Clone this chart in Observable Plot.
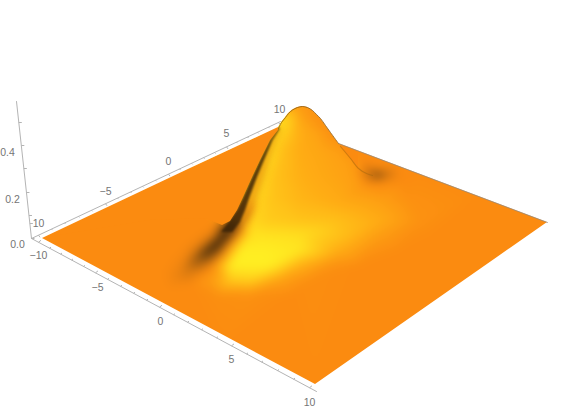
<!DOCTYPE html>
<html><head><meta charset="utf-8">
<style>html,body{margin:0;padding:0;background:#fff}svg{display:block}</style>
<script src="https://cdn.jsdelivr.net/npm/d3@7"></script>
<script src="https://cdn.jsdelivr.net/npm/@observablehq/plot@0.6"></script>
</head><body>
<script>
// Values: every sample is [across, down, shade]
const cornerShade = [[0,0,0],[572,0,0],[572,408,0],[0,408,0],[150,100,0],[420,100,0],[550,222,0],[315,390,0],[100,300,0],[220,350,0],[430,320,0],[500,250,0],[100,200,0],[420,170,0],[480,195,0],[345,140,0],[352,150,0],[362,160,0]];
const crestShade = [[270,118,.8],[285,122,.8],[290,113,.62],[295,108,.35],[302,105,.15],[312,106,.1],[290,120,.65],[300,120,.32],[310,120,.18],[320,125,.08],
 [276,130,.8],[282,130,.8],[290,130,.58],[300,130,.38],[310,130,.32],[320,130,.22],[330,132,.07],
 [262,150,.8],[272,150,.8],[280,150,.58],[300,150,.38],[320,150,.32],[340,150,.2],
 [250,175,.78],[262,175,.78],[275,175,.58],[300,175,.42],[330,175,.32],[352,178,.24],[365,188,.15],
 [240,200,.75],[258,200,.75],[270,200,.62],[300,200,.48],[340,200,.36],[380,200,.24],[410,200,.07],
 [250,220,.78],[270,220,.66],[300,220,.6],[340,220,.55],[380,220,.38],[420,220,.08],
 [248,235,.85],[258,235,.9],[300,235,.85],[345,235,.55],[385,235,.18],[430,235,0],
 [240,250,1],[260,250,1],[300,250,.92],[340,250,.38],[370,250,.1],[400,250,0],
 [230,265,1],[243,265,1],[270,265,1],[300,265,.42],[330,265,.1],[360,265,0],
 [210,280,.2],[230,280,.65],[250,280,.7],[280,280,.25],[310,280,.03],
 [215,295,.04],[250,295,.06],[290,295,0]];
const shadowShade = [[240,212,-.9],[232,224,-1],[225,234,-1],[216,244,-1],[207,251,-.85],[198,258,-.5],[188,266,-.22],[178,277,-.07],
 [214,226,0],[199,235,0],[184,246,0],[172,258,0],[163,272,0],[168,288,0],
 [213,236,-.15],[204,243,-.15],[194,251,-.12],[183,262,-.05],
 [233,246,.4],[221,258,.12],[210,266,-.03],[198,275,-.02],[190,285,0]];
const hollowShade = [[377,174,-.85],[370,174,-.3],[385,175,-.3],[393,177,-.05],[377,169,-.05],[377,180,-.05],[360,182,.16],[403,180,0],[398,167,0],[340,152,.24],[348,162,.24],[354,172,.2]];
const samples = [...cornerShade,...crestShade,...shadowShade,...hollowShade];

const shadeDomain = [-1,-.5,0,.4,1];
const shadeColors = ["#2e1c08","#8a5210","#FB8B10","#FFAD14","#FFEE22"];

const skyline = [[0,408],[42,408],[42,238],[190,168],[278,127],[281,122],[285,117],[288,113],[292,109.5],[297,107],[302,106],[307,107],[312,110],[316,114],[320,118],[325,125],[330,132],[338,143],[547,222],[547,408],[572,408]];
const frontEdge = [[42,238],[315,384],[547,222]];
const farPlane = [[42,238,238],[150,187,220],[205,161,218],[222,153,225],[230,149,221],[237,145,210],[243,143,197],[252,139,177],[260,135,160],[270,130,140],[278,126,130]];
const sidePlane = [[338,143,143],[350,147.5,158],[358,150.6,168]];
const rim = [[278,128],[281,122],[285,117],[288,113],[292,109.5],[297,107],[302,106],[307,107],[312,110],[316,114],[320,118],[325,125],[330,132],[338,143]];
const backEdge = [[338,143],[547,222]];
const crease = [[340,146],[350,158],[358,168],[366,173],[372,175]];
const amberBand = [[128,278,282],[140,270,276],[160,260,269],[177,252,264],[197,243,257],[210,237,253],[222,229,247]];
const darkBand = [[128,278,280],[140,270,272.5],[160,260,264],[177,252,257],[197,243,249.5],[210,237,245],[222,229,240],[232,221,232]];

const boxAxes = [[[31,238],[16,101]],[[31,238],[280,121]],[[31,238],[316,391]]];
const frontTicks = [38,49,60,71,83,95,107,120,133,146,159,173,187,201,216,231,246,261,277,293,309];
const backTicks = [38,51,64,78,91,105,117,130,142,155,168,179,191,203,214,226,236,247,257,268,278];
const heightTicks = [238,223,215,192,168,145,122];
const frontY = x => 238 + (x-31)*153/285;
const backY = x => 238 - (x-31)*117/249;
const heightX = y => 31 - (238-y)*15/137;

const labels = [
 ["0.0",17,244],["0.2",12,199],["0.4",7,152],
 ["10",38,223],["\u22125",105,191],["0",168,161],["5",226,133],["10",279,109],
 ["\u221210",38,255],["\u22125",97,287],["0",160,321],["5",231,359],["10",309,402]
];

const gray = "#b4b4b4", textGray = "#757575", orange = "#FB8B10";
const plot = Plot.plot({
  width:572,height:408,margin:0,
  x:{domain:[0,572],axis:null},
  y:{domain:[408,0],axis:null},
  color:{type:"linear",domain:shadeDomain,range:shadeColors,legend:false},
  marks:[
    Plot.raster(samples,{x:d=>d[0],y:d=>d[1],fill:d=>d[2],interpolate:"barycentric",pixelSize:1}),
    Plot.areaX(amberBand,{y:d=>d[0],x1:d=>d[1],x2:d=>d[2],fill:"#e89410",fillOpacity:.7,className:"band-soft"}),
    Plot.areaX(darkBand,{y:d=>d[0],x1:d=>d[1],x2:d=>d[2],fill:"#3c2408",fillOpacity:.85,className:"band-dark"}),
    Plot.areaY(farPlane,{x:d=>d[0],y1:d=>d[1],y2:d=>d[2],fill:orange}),
    Plot.areaY(sidePlane,{x:d=>d[0],y1:d=>d[1],y2:d=>d[2],fill:orange}),
    Plot.line(crease,{x:d=>d[0],y:d=>d[1],stroke:"#a8680f",strokeWidth:1.1,strokeOpacity:.55,curve:"catmull-rom"}),
    Plot.areaY(skyline,{x:d=>d[0],y1:0,y2:d=>d[1],fill:"#fff"}),
    Plot.areaY(frontEdge,{x:d=>d[0],y1:d=>d[1],y2:408,fill:"#fff"}),
    Plot.line(rim,{x:d=>d[0],y:d=>d[1],stroke:"#8a5a14",strokeWidth:.8,curve:"catmull-rom"}),
    Plot.line(backEdge,{x:d=>d[0],y:d=>d[1],stroke:"#8a8a8a",strokeWidth:.7}),
    ...boxAxes.map(a=>Plot.line(a,{x:d=>d[0],y:d=>d[1],stroke:gray,strokeWidth:1})),
    Plot.link(frontTicks,{x1:d=>d,y1:d=>frontY(d),x2:(d,i)=>d+(i%5?1.5:2.5),y2:(d,i)=>frontY(d)-(i%5?1:2),stroke:gray}),
    Plot.link(backTicks,{x1:d=>d,y1:d=>backY(d),x2:(d,i)=>d+(i%5?1:1.5),y2:(d,i)=>backY(d)+(i%5?1:2),stroke:gray}),
    Plot.link(heightTicks,{x1:d=>heightX(d),y1:d=>d,x2:d=>heightX(d)+3,y2:d=>d,stroke:gray}),
    Plot.text(labels,{x:d=>d[1],y:d=>d[2],text:d=>d[0],fill:textGray,fontSize:10.5,fontFamily:"Liberation Sans, Arial, sans-serif",textAnchor:"middle"})
  ]
});
document.body.appendChild(plot);
const img = plot.querySelector("image");
if (img) img.style.filter = "blur(5px)";
const soft = plot.querySelector(".band-soft");
if (soft) soft.style.filter = "blur(3px)";
const dark = plot.querySelector(".band-dark");
if (dark) dark.style.filter = "blur(1.1px)";
</script>
</body></html>
